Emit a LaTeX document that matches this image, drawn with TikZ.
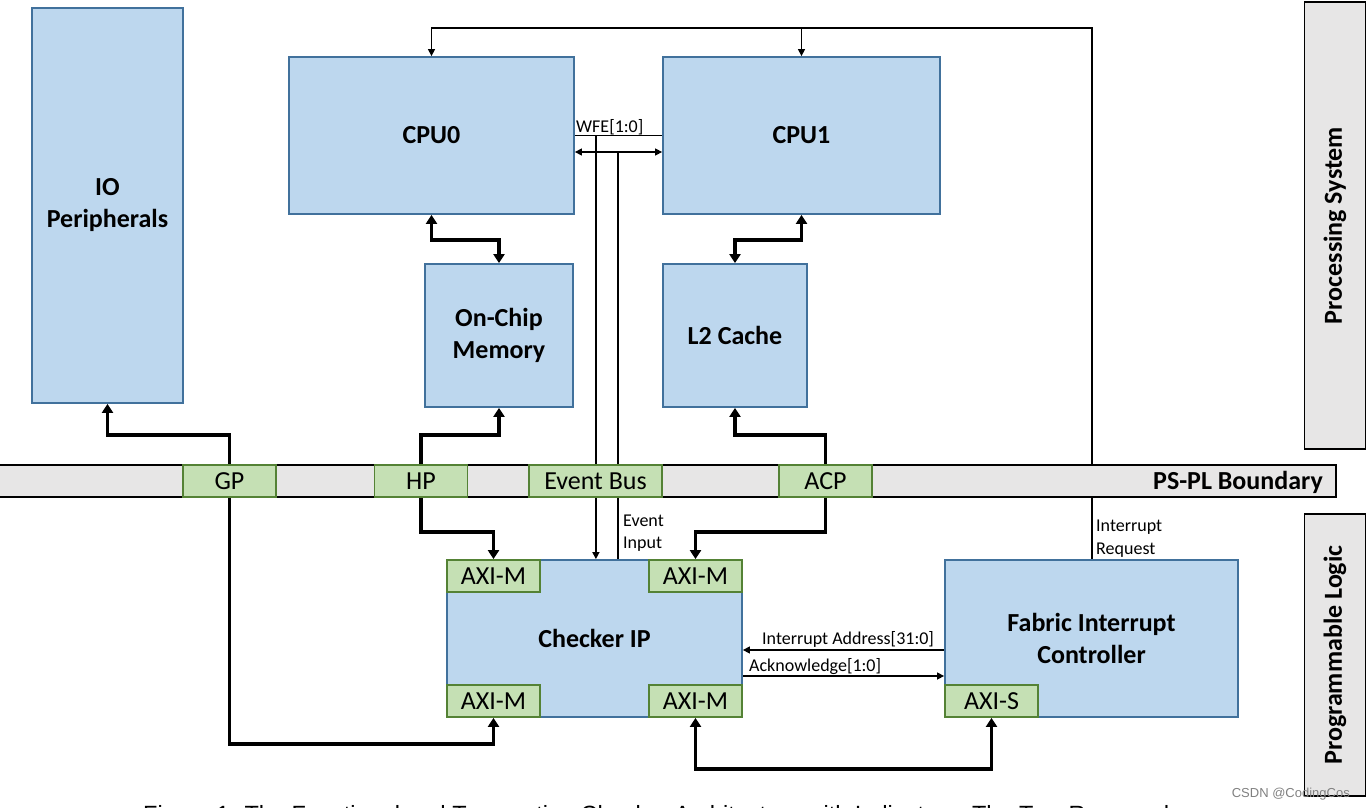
\documentclass[tikz,border=0pt]{standalone}
\usepackage{fontspec}
\setmainfont{Carlito}
\newfontfamily\capfont{Liberation Sans}
\usetikzlibrary{arrows.meta,calc,backgrounds}

\definecolor{bfill}{HTML}{BDD7EE}
\definecolor{bline}{HTML}{41719C}
\definecolor{gfill}{HTML}{C5E0B4}
\definecolor{gline}{HTML}{548235}
\definecolor{grayfill}{HTML}{E7E6E6}

\tikzset{
  blk/.style={draw=bline, fill=bfill, line width=1.8pt, inner sep=0pt, align=center,
    font=\fontsize{26}{32}\selectfont\bfseries},
  port/.style={draw=gline, fill=gfill, line width=1.8pt, inner sep=0pt,
    minimum width=93, minimum height=32, font=\fontsize{26}{32}\selectfont},
  side/.style={draw=black, fill=grayfill, line width=1.8pt, inner sep=0pt},
  big/.style={font=\fontsize{26}{32}\selectfont\bfseries, inner sep=0pt},
  lbl/.style={font=\fontsize{18}{22}\selectfont, inner sep=0pt},
  thk/.style={line width=3.4pt, >={Triangle[length=9pt,width=11pt]}},
  thn/.style={line width=1.4pt, >={Triangle[length=7pt,width=7pt]}},
}

\begin{document}
\begin{tikzpicture}[x=1pt,y=-1pt]
\useasboundingbox (0,0) rectangle (1366,808);

% Side panels and boundary
\node[side, minimum width=61, minimum height=447] (ps) at (1335,225.5) {};
\node[big, rotate=90] (pslbl) at (ps.center) {Processing System};
\node[side, minimum width=61, minimum height=282] (pl) at (1335,655) {};
\node[big, rotate=90] (pllbl) at (pl.center) {Programmable Logic};
\node[side, minimum width=1338, minimum height=32] (bar) at (667,481) {};
\node[big, anchor=east] (barlbl) at (1323,482) {PS-PL Boundary};

% Blocks
\node[blk, minimum width=151, minimum height=395] (io) at (107.5,205.5) {IO\\Peripherals};
\node[blk, minimum width=285, minimum height=157] (cpu0) at (431.5,135.5) {CPU0};
\node[blk, minimum width=277, minimum height=157] (cpu1) at (801.5,135.5) {CPU1};
\node[blk, minimum width=148, minimum height=143] (ocm) at (499,335.5) {On-Chip\\Memory};
\node[blk, minimum width=144, minimum height=143] (l2) at (735,335.5) {L2 Cache};
\node[blk, minimum width=295, minimum height=157] (chk) at (594.5,638.5) {Checker IP};
\node[blk, minimum width=293, minimum height=157] (fic) at (1091.5,638.5) {Fabric Interrupt\\Controller};

% Ports
\node[port] (gp) at (229.5,481) {GP};
\node[port] (hp) at (421,481) {HP};
\node[port, minimum width=133] (evb) at (595.5,481) {Event Bus};
\node[port] (acp) at (825.5,481) {ACP};
\node[port] (axitl) at (493.5,576) {AXI-M};
\node[port] (axitr) at (695.5,576) {AXI-M};
\node[port] (axibl) at (493.5,701) {AXI-M};
\node[port] (axibr) at (695.5,701) {AXI-M};
\node[port] (axis) at (991.5,701) {AXI-S};

% Connectors
\begin{pgfonlayer}{background}
\draw[thk,<->] (cpu0.south) -- ++(0,25) -| (ocm.north);
\draw[thk,<->] (cpu1.south) -- ++(0,25) -| (l2.north);
\draw[thk,<->] (io.south) -- ++(0,31) -| (gp.north) -- (gp.south) |- ($(axibl.south)+(0,26)$) -- (axibl.south);
\draw[thk,<->] (ocm.south) -- ++(0,27) -| (hp.north) -- (hp.south) -- ++(0,34) -| (axitl.north);
\draw[thk,<->] (l2.south) -- ++(0,27) -| (acp.north) -- (acp.south) -- ++(0,34) -| (axitr.north);
\draw[thk,<->] (axibr.south) -- ++(0,51) -| (axis.south);

\coordinate (irtop) at ($(fic.north)+(0,-531)$);
\draw[line width=2pt] (fic.north) -- (irtop) -- (irtop -| cpu1.north);
\draw[thn,->] (irtop -| cpu1.north) -| (cpu0.north);
\draw[thn,->] (irtop -| cpu1.north) -- (cpu1.north);

\draw[thn] (cpu0.east) -- (cpu1.west);
\coordinate (wfe) at ($(cpu0.east)+(21,0)$);
\draw[thn,->] (wfe) -- (wfe |- chk.north);
\draw[thn,<->] ($(cpu0.east)+(0,16.5)$) -- ($(cpu1.west)+(0,16.5)$);
\coordinate (evt) at ($(cpu0.east)+(43,16.5)$);
\draw[line width=2.6pt] (evt) -- (evt |- chk.north);

\draw[thn,->] ($(fic.west)+(0,11.5)$) -- ($(chk.east)+(0,11.5)$);
\draw[thn,->] ($(chk.east)+(0,37.5)$) -- ($(fic.west)+(0,37.5)$);
\end{pgfonlayer}

% Labels
\node[lbl, anchor=base west] (wfelbl) at (576,132) {WFE[1:0]};
\node[lbl, anchor=base west] (ev1) at (623,526) {Event};
\node[lbl, anchor=base west] (ev2) at (623,548) {Input};
\node[lbl, anchor=base west] (ir1) at (1096,531) {Interrupt};
\node[lbl, anchor=base west] (ir2) at (1096,554) {Request};
\node[lbl, anchor=base west] (ialbl) at (762,644) {Interrupt Address[31:0]};
\node[lbl, anchor=base west] (acklbl) at (749,671) {Acknowledge[1:0]};

% Caption (cut off at the bottom edge, as in the reference) and watermark
\begin{scope}
\clip (0,0) rectangle (1366,808);
\node[anchor=base west, inner sep=0pt, font=\capfont\fontsize{23.5}{26}\selectfont] (cap) at (143,822)
  {Figure 1: The Functional and Transaction Checker Architecture with Indicators: The Two Removed};
\end{scope}
\node[anchor=base east, inner sep=0pt, text=gray, font=\capfont\fontsize{13}{15}\selectfont] (wm) at (1350,797) {CSDN @CodingCos};
\end{tikzpicture}
\end{document}
